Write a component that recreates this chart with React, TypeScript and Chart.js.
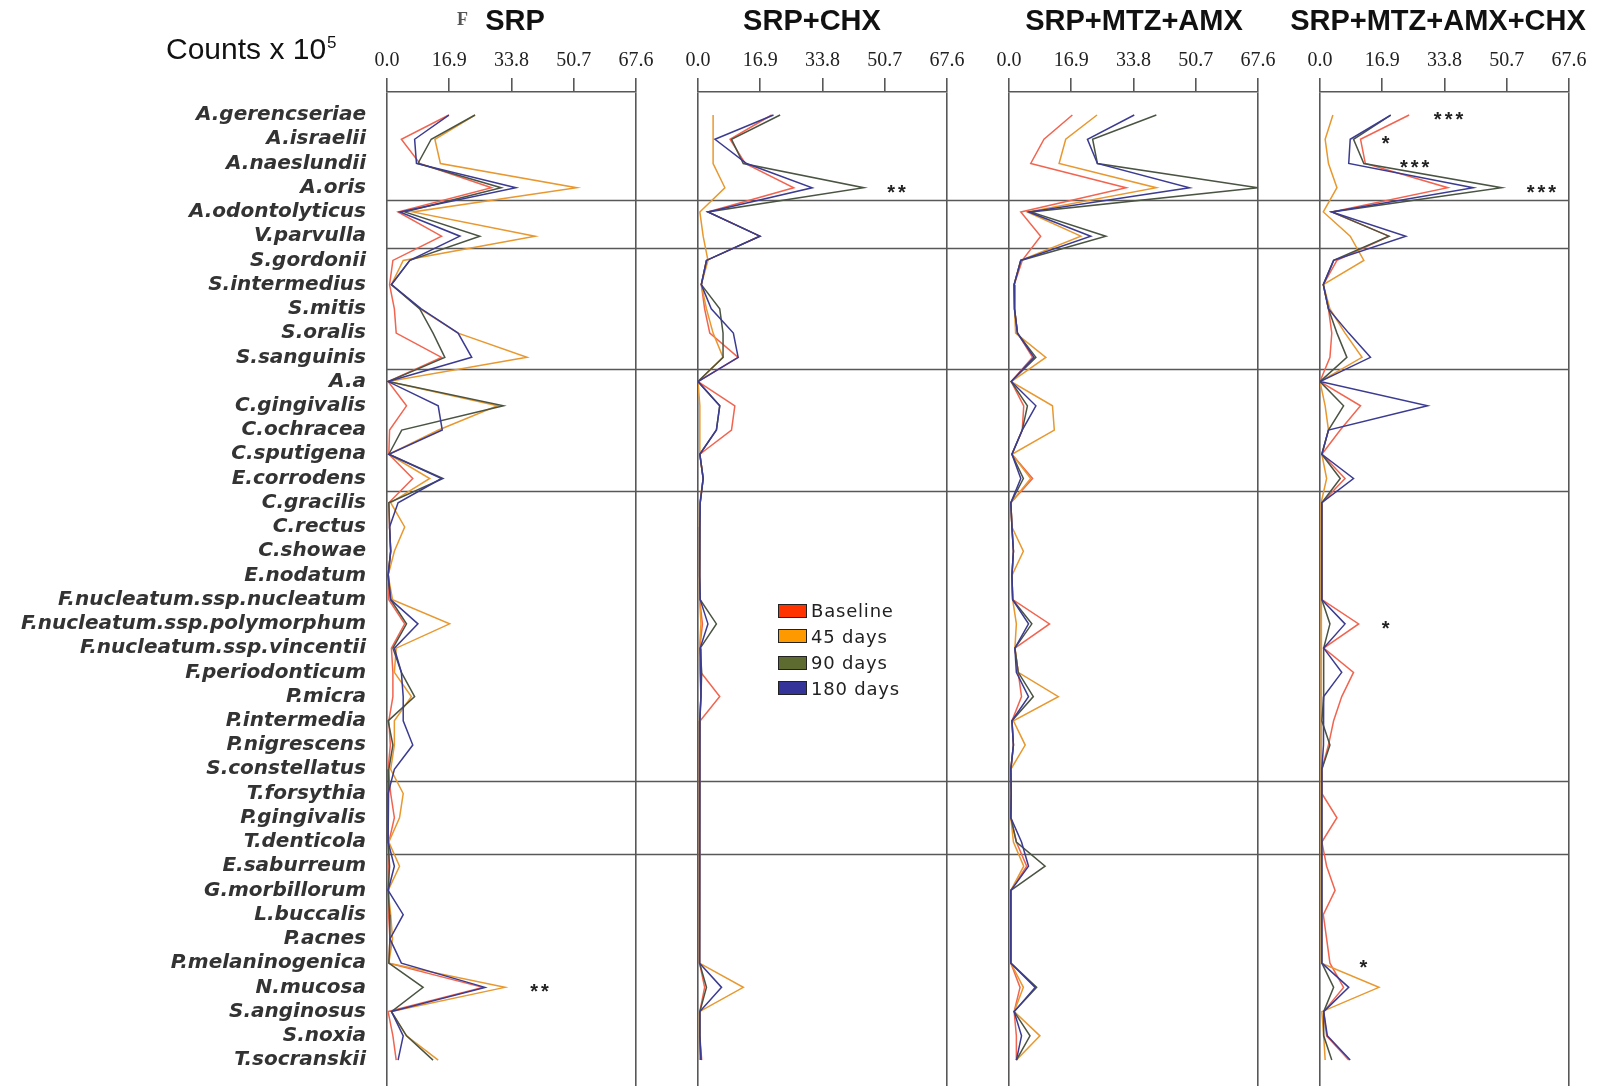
import React, { useEffect, useRef } from "react";
import { Chart, registerables } from "chart.js";
Chart.register(...registerables);

// ---------------- DATA ----------------
const categories = [
  "A.gerencseriae", "A.israelii", "A.naeslundii", "A.oris", "A.odontolyticus",
  "V.parvulla", "S.gordonii", "S.intermedius", "S.mitis", "S.oralis",
  "S.sanguinis", "A.a", "C.gingivalis", "C.ochracea", "C.sputigena",
  "E.corrodens", "C.gracilis", "C.rectus", "C.showae", "E.nodatum",
  "F.nucleatum.ssp.nucleatum", "F.nucleatum.ssp.polymorphum", "F.nucleatum.ssp.vincentii", "F.periodonticum", "P.micra",
  "P.intermedia", "P.nigrescens", "S.constellatus", "T.forsythia", "P.gingivalis",
  "T.denticola", "E.saburreum", "G.morbillorum", "L.buccalis", "P.acnes",
  "P.melaninogenica", "N.mucosa", "S.anginosus", "S.noxia", "T.socranskii",
];

const xTickValues = [0, 16.9, 33.8, 50.7, 67.6];
const seriesLabels = ["Baseline", "45 days", "90 days", "180 days"];
const panelTitles = ["SRP", "SRP+CHX", "SRP+MTZ+AMX", "SRP+MTZ+AMX+CHX"];
// complex boundaries, between category indices
const groupBoundaries = [3.5, 5.5, 10.5, 15.5, 27.5, 30.5];

// SRP
const srpBaseline = [16.8, 3.9, 8.9, 28.4, 3.0, 14.8, 1.6, 0.7, 2.0, 2.5, 14.8, 0.3, 5.3, 0.7, 0.5, 7.0, 0.5, 0.7, 1.0, 0.3, 0.5, 4.8, 1.2, 1.6, 1.6, 0.5, 0.9, 0.3, 1.0, 2.0, 0.5, 0.5, 0.3, 0.5, 0.8, 0.5, 26.0, 0.3, 1.6, 2.5];
const srp45 = [23.9, 13.0, 14.5, 51.5, 7.0, 40.2, 4.4, 1.2, 9.0, 19.3, 38.0, 0.3, 30.0, 14.0, 0.5, 11.6, 1.0, 4.8, 2.0, 0.3, 1.5, 17.0, 2.5, 2.0, 6.6, 2.0, 2.0, 1.0, 4.4, 3.4, 0.5, 3.4, 0.3, 1.0, 1.5, 0.5, 32.0, 1.2, 5.3, 13.9];
const srp90 = [23.9, 12.0, 8.4, 31.0, 4.8, 25.2, 6.2, 1.2, 8.9, 12.5, 15.7, 0.3, 31.6, 4.0, 0.5, 15.2, 0.5, 0.7, 1.0, 0.3, 1.0, 5.3, 1.6, 3.9, 7.5, 0.3, 1.6, 0.5, 0.3, 0.3, 0.3, 0.7, 0.3, 0.7, 0.8, 0.5, 9.8, 1.2, 5.3, 12.5];
const srp180 = [16.8, 7.5, 8.0, 35.0, 3.5, 19.8, 6.2, 1.2, 9.3, 19.3, 23.0, 0.3, 13.9, 15.0, 0.5, 14.8, 3.0, 0.7, 1.0, 0.3, 1.0, 8.4, 2.0, 3.9, 4.4, 4.4, 7.0, 2.0, 0.3, 0.3, 0.3, 2.0, 0.3, 4.4, 0.8, 3.9, 26.6, 1.2, 4.4, 3.0];

// SRP+CHX
const chxBaseline = [20.0, 8.7, 12.8, 26.0, 2.7, 16.8, 2.3, 0.9, 1.8, 3.2, 10.9, 0.0, 10.0, 9.1, 0.5, 1.4, 0.6, 0.5, 0.5, 0.4, 0.5, 1.2, 0.5, 0.8, 5.9, 0.6, 0.5, 0.4, 0.5, 0.4, 0.4, 0.5, 0.4, 0.4, 0.4, 0.5, 1.8, 0.5, 0.5, 1.0];
const chx45 = [4.1, 4.1, 4.1, 7.3, 0.5, 1.4, 2.7, 0.9, 2.3, 4.1, 6.8, 0.0, 0.5, 0.5, 0.5, 1.4, 0.5, 0.4, 0.4, 0.4, 0.5, 0.8, 0.4, 0.5, 0.8, 0.4, 0.4, 0.4, 0.3, 0.3, 0.3, 0.4, 0.4, 0.4, 0.4, 0.5, 12.3, 0.4, 0.4, 0.5];
const chx90 = [22.3, 9.1, 12.3, 45.0, 2.7, 16.8, 2.3, 0.9, 5.9, 6.8, 6.8, 0.0, 5.9, 5.0, 0.5, 1.4, 0.6, 0.5, 0.5, 0.4, 0.6, 5.0, 0.6, 1.0, 0.8, 0.5, 0.5, 0.4, 0.4, 0.4, 0.4, 0.5, 0.4, 0.4, 0.4, 0.5, 2.3, 0.5, 0.5, 0.8];
const chx180 = [20.5, 4.6, 13.2, 31.0, 2.7, 16.8, 2.3, 0.9, 3.6, 9.6, 10.9, 0.0, 5.9, 5.0, 0.5, 1.4, 0.6, 0.5, 0.5, 0.4, 0.6, 2.7, 0.6, 0.8, 0.8, 0.5, 0.5, 0.4, 0.4, 0.4, 0.4, 0.5, 0.4, 0.4, 0.4, 0.5, 6.4, 0.5, 0.5, 0.8];

// SRP+MTZ+AMX
const mtzBaseline = [17.2, 9.5, 5.9, 31.8, 3.2, 8.6, 3.6, 1.4, 1.5, 2.3, 6.4, 0.6, 4.0, 3.6, 0.8, 6.4, 0.5, 0.8, 1.2, 0.8, 1.0, 11.0, 1.6, 2.5, 3.4, 0.8, 1.2, 0.5, 0.6, 0.5, 2.0, 4.8, 0.5, 0.5, 0.5, 0.5, 3.0, 1.4, 2.0, 2.0];
const mtz45 = [23.9, 15.4, 13.6, 40.0, 5.0, 19.5, 3.2, 1.4, 1.5, 1.8, 10.0, 0.6, 11.8, 12.3, 0.8, 5.9, 0.5, 0.8, 3.9, 0.8, 1.0, 2.0, 1.6, 2.5, 13.4, 1.2, 4.4, 0.5, 0.6, 0.5, 1.2, 4.0, 0.5, 0.5, 0.5, 0.5, 3.9, 1.4, 8.4, 2.0];
const mtz90 = [40.0, 22.7, 24.0, 67.6, 5.9, 26.3, 3.2, 1.4, 1.5, 2.3, 7.3, 0.6, 5.0, 3.6, 0.8, 3.9, 0.5, 0.8, 1.2, 0.8, 1.0, 6.2, 1.6, 2.5, 6.6, 0.8, 1.2, 0.5, 0.6, 0.5, 2.0, 9.8, 0.5, 0.5, 0.5, 0.5, 7.5, 1.4, 5.7, 2.0];
const mtz180 = [34.0, 21.3, 24.0, 49.0, 5.4, 22.2, 3.2, 1.4, 1.5, 2.3, 6.8, 0.6, 7.3, 3.6, 0.8, 3.2, 0.5, 0.8, 1.2, 0.8, 1.0, 5.3, 1.6, 2.0, 5.3, 0.8, 1.2, 0.5, 0.6, 0.5, 3.4, 5.3, 0.5, 0.5, 0.5, 0.5, 7.1, 1.4, 3.4, 2.0];

// SRP+MTZ+AMX+CHX
const allBaseline = [24.2, 11.0, 12.3, 34.7, 3.2, 18.7, 4.6, 0.9, 2.3, 3.2, 2.7, 0.0, 11.0, 5.5, 0.5, 6.8, 0.5, 0.5, 0.5, 0.5, 0.5, 10.5, 1.0, 9.1, 5.9, 3.7, 2.3, 0.5, 0.5, 4.6, 0.5, 1.8, 4.1, 0.9, 1.8, 2.7, 6.4, 1.0, 1.8, 7.8];
const all45 = [3.5, 1.4, 2.3, 4.6, 0.9, 8.2, 11.9, 0.9, 2.7, 6.8, 11.4, 0.0, 1.4, 2.3, 0.5, 1.8, 0.3, 0.3, 0.3, 0.3, 0.3, 0.5, 0.5, 0.5, 0.5, 0.5, 0.5, 0.3, 0.3, 0.3, 0.3, 0.3, 0.3, 0.3, 0.3, 0.5, 16.0, 0.5, 1.0, 1.4];
const all90 = [19.2, 9.1, 11.9, 49.3, 3.2, 18.7, 3.7, 0.9, 2.3, 4.6, 7.3, 0.0, 6.4, 2.3, 0.5, 5.5, 0.5, 0.5, 0.5, 0.5, 0.5, 2.7, 1.0, 1.0, 1.0, 0.5, 2.7, 0.5, 0.5, 0.5, 0.5, 0.5, 0.5, 0.5, 0.5, 0.5, 3.7, 1.0, 1.0, 3.2];
const all180 = [19.2, 8.2, 7.8, 41.6, 3.2, 23.3, 3.7, 0.9, 2.3, 7.8, 13.7, 0.0, 29.2, 2.3, 0.5, 9.1, 0.5, 0.5, 0.5, 0.5, 0.5, 6.8, 1.0, 5.9, 1.0, 0.9, 1.0, 0.5, 0.5, 0.5, 0.5, 0.5, 0.5, 0.5, 0.5, 0.5, 7.8, 1.0, 2.0, 8.2];

const panelSeries = [
  [srpBaseline, srp45, srp90, srp180],
  [chxBaseline, chx45, chx90, chx180],
  [mtzBaseline, mtz45, mtz90, mtz180],
  [allBaseline, all45, all90, all180],
];

// significance marks: panel, category index, x value, text
const sigPanel = [0, 1, 3, 3, 3, 3, 3, 3];
const sigCategory = [36, 3, 0, 1, 2, 3, 21, 35];
const sigValue = [41.8, 54.3, 35.3, 18.2, 26.1, 60.5, 18.2, 12.2];
const sigText = ["**", "**", "***", "*", "***", "***", "*", "*"];

// ---------------- STYLE ----------------
const lineColors = ["#f2644f", "#e8982e", "#4a5442", "#3b3b92"];
const legendFill = ["#ff3300", "#ff9900", "#5e6b30", "#333399"];
const AXIS_COLOR = "#585858";

const PANEL_LEFT = [387, 698, 1009, 1320];
const PANEL_W = 249;
const CANVAS_BOUNDS = [
  [0, 667],
  [667, 978],
  [978, 1289],
  [1289, 1601],
];
const H = 1086;

const panelPlugin = {
  id: "panelDecor",
  beforeDatasetsDraw(chart: any, _args: any, opts: any) {
    const { ctx, chartArea, scales } = chart;
    const y = scales.y;
    const x0 = opts.panel === 0 ? chartArea.left : 0;
    const x1 = opts.panel === 3 ? chartArea.right : chart.width;
    ctx.save();
    ctx.strokeStyle = AXIS_COLOR;
    ctx.lineWidth = 1.6;
    groupBoundaries.forEach((b) => {
      const py = Math.round(y.getPixelForValue(b)) + 0.5;
      ctx.beginPath();
      ctx.moveTo(x0, py);
      ctx.lineTo(x1, py);
      ctx.stroke();
    });
    ctx.restore();
  },
  afterDatasetsDraw(chart: any, _args: any, opts: any) {
    const { ctx, scales } = chart;
    ctx.save();
    ctx.fillStyle = "#222";
    ctx.font = "bold 20px 'Liberation Sans', Arial, sans-serif";
    (ctx as any).letterSpacing = "3px";
    ctx.textAlign = "center";
    ctx.textBaseline = "alphabetic";
    sigPanel.forEach((p, k) => {
      if (p !== opts.panel) return;
      const px = scales.x.getPixelForValue(sigValue[k]);
      const py = scales.y.getPixelForValue(sigCategory[k]);
      ctx.fillText(sigText[k], px, py + 11);
    });
    ctx.restore();
  },
};

function Panel({ panel }: { panel: number }) {
  const ref = useRef<HTMLCanvasElement>(null);
  const [cl, cr] = CANVAS_BOUNDS[panel];
  const width = cr - cl;
  const padLeft = panel === 0 ? 0 : PANEL_LEFT[panel] - cl;
  const padRight = cr - (PANEL_LEFT[panel] + PANEL_W);

  useEffect(() => {
    const series = panelSeries[panel];
    const chart = new Chart(ref.current as HTMLCanvasElement, {
      type: "line",
      data: {
        datasets: series.map((vals, k) => ({
          label: seriesLabels[k],
          data: vals.map((v, i) => ({ x: v, y: i })),
          borderColor: lineColors[k],
          backgroundColor: lineColors[k],
          borderWidth: 1.5,
          pointRadius: 0,
          tension: 0,
          fill: false,
          order: 4 - k,
        })),
      },
      options: {
        responsive: false,
        animation: false,
        events: [],
        indexAxis: "y",
        layout: { padding: { left: padLeft, right: padRight, top: 0, bottom: 0 } },
        plugins: {
          legend: { display: false },
          tooltip: { enabled: false },
          title: { display: false },
          panelDecor: { panel },
        } as any,
        scales: {
          x: {
            type: "linear",
            position: "top",
            min: 0,
            max: 67.6,
            afterBuildTicks: (s: any) => {
              s.ticks = xTickValues.map((v) => ({ value: v }));
            },
            afterFit: (s: any) => {
              s.height = 92;
              s.paddingLeft = 0;
              s.paddingRight = 0;
            },
            ticks: {
              autoSkip: false,
              maxRotation: 0,
              padding: 5,
              color: "#222",
              font: { family: "'Liberation Serif', 'Times New Roman', serif", size: 20 },
              callback: (v: any) => Number(v).toFixed(1),
            },
            grid: {
              drawOnChartArea: true,
              color: (c: any) => (c.index === 0 || c.index === xTickValues.length - 1 ? AXIS_COLOR : "rgba(0,0,0,0)"),
              tickColor: AXIS_COLOR,
              tickLength: 14,
              lineWidth: 1.6,
            },
            border: { display: true, color: AXIS_COLOR, width: 1.6 },
          },
          y: {
            type: "linear",
            reverse: true,
            min: -0.95,
            max: 40.07,
            display: panel === 0,
            afterBuildTicks: (s: any) => {
              s.ticks = categories.map((_, i) => ({ value: i }));
            },
            afterFit: (s: any) => {
              if (panel === 0) s.width = PANEL_LEFT[0];
              s.paddingTop = 0;
              s.paddingBottom = 0;
            },
            ticks: {
              autoSkip: false,
              padding: 21,
              color: "#333",
              font: { family: "'DejaVu Sans', sans-serif", size: 20, style: "italic", weight: "bold" },
              callback: (v: any) => categories[v],
            },
            grid: { display: false, drawTicks: false },
            border: { display: false },
          },
        },
      } as any,
      plugins: [panelPlugin],
    });
    return () => chart.destroy();
  }, [panel]);

  return (
    <canvas
      ref={ref}
      width={width}
      height={H}
      style={{ position: "absolute", left: cl, top: 0, width, height: H }}
    />
  );
}

const TITLE_CENTER = [515, 812, 1134, 1438];
const LEGEND_ROW_Y = [610.6, 636.1, 662.6, 688.2];

export default function App() {
  return (
    <div
      style={{
        position: "absolute",
        left: 0,
        top: 0,
        width: 1601,
        height: H,
        background: "#fff",
        overflow: "hidden",
        fontFamily: "'Liberation Sans', Arial, sans-serif",
      }}
    >
      {[0, 1, 2, 3].map((p) => (
        <Panel key={p} panel={p} />
      ))}
      {panelTitles.map((t, i) => (
        <div
          key={t}
          style={{
            position: "absolute",
            left: TITLE_CENTER[i],
            top: 6.4,
            transform: "translateX(-50%)",
            whiteSpace: "nowrap",
            fontSize: 29,
            fontWeight: "bold",
            lineHeight: 1,
            color: "#111",
          }}
        >
          {t}
        </div>
      ))}
      <div
        style={{
          position: "absolute",
          left: 457,
          top: 10,
          fontFamily: "'Liberation Serif', serif",
          fontWeight: "bold",
          fontSize: 18,
          lineHeight: 1,
          color: "#555",
        }}
      >
        F
      </div>
      <div
        style={{
          position: "absolute",
          left: 166,
          top: 34,
          whiteSpace: "nowrap",
          fontSize: 30,
          lineHeight: 1,
          color: "#111",
        }}
      >
        Counts x 10
        <span style={{ fontSize: 17, position: "relative", top: -11, marginLeft: 1 }}>5</span>
      </div>
      {seriesLabels.map((l, k) => (
        <React.Fragment key={l}>
          <div
            style={{
              position: "absolute",
              left: 778,
              top: LEGEND_ROW_Y[k] - 7,
              width: 27,
              height: 12,
              background: legendFill[k],
              border: "1px solid #222",
            }}
          />
          <div
            style={{
              position: "absolute",
              left: 811,
              top: LEGEND_ROW_Y[k] - 8.6,
              fontFamily: "'DejaVu Sans', sans-serif",
              fontSize: 18,
              letterSpacing: 0.8,
              lineHeight: 1,
              color: "#222",
              whiteSpace: "nowrap",
            }}
          >
            {l}
          </div>
        </React.Fragment>
      ))}
    </div>
  );
}
